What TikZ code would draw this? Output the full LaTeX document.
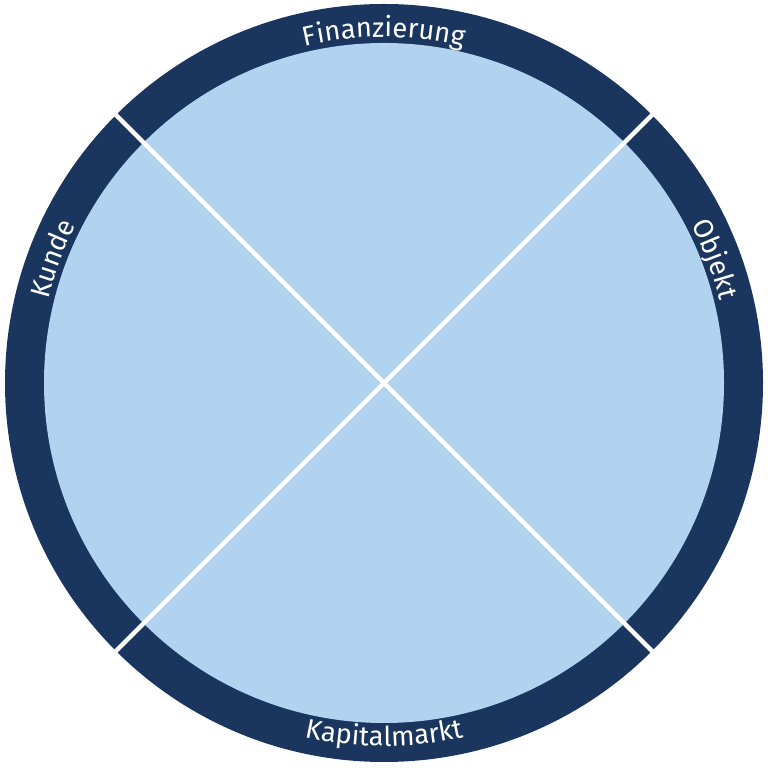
\documentclass[tikz,border=0pt]{standalone}
\usepackage{fontspec}
\newfontfamily\labfam{Fira Sans}
\newcommand{\labfont}{\labfam\fontsize{27.5}{32}\selectfont}
\usetikzlibrary{decorations.text,calc}
\definecolor{navy}{HTML}{1A365F}
\definecolor{lightblue}{HTML}{B1D3EF}
\begin{document}
\begin{tikzpicture}[x=1bp,y=1bp,
  ring/.style={fill=navy},
  inner/.style={fill=lightblue},
  divider/.style={draw=white,line width=4.5bp},
  arclabel/.style={decorate,decoration={text along path,text align=center,text color=white,text={|\labfont|#1}}}]
\useasboundingbox (0,0) rectangle (768,768);
\coordinate (c) at (384,385);
\fill[ring] (c) circle[radius=379];
\fill[inner] (c) circle[radius=340];
\foreach \a in {45,135,225,315} {
  \coordinate (e\a) at ($(c)+(\a:388)$);
}
\draw[divider] (c) -- (e45);
\draw[divider] (c) -- (e135);
\draw[divider] (c) -- (e225);
\draw[divider] (c) -- (e315);
\path[arclabel=Finanzierung] (c) ++(135:346) arc[start angle=135,end angle=45,radius=346];
\path[arclabel=Kapitalmarkt] (c) ++(225:363) arc[start angle=225,end angle=315,radius=363];
\path[arclabel=Kunde] (c) ++(199.5:346) arc[start angle=199.5,end angle=119.5,radius=346];
\path[arclabel=Objekt] (c) ++(60.5:346) arc[start angle=60.5,end angle=-19.5,radius=346];
\end{tikzpicture}
\end{document}
